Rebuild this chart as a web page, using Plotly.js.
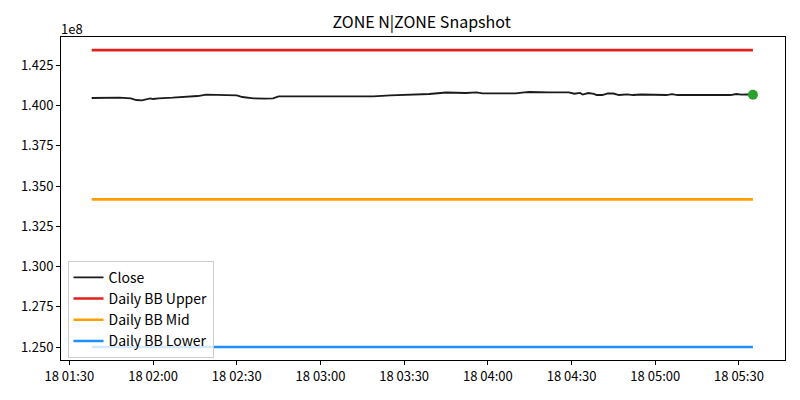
<!DOCTYPE html>
<html>
<head>
<meta charset="utf-8">
<script src="https://cdn.plot.ly/plotly-3.0.1.min.js"></script>
<style>html,body{margin:0;padding:0;background:#fff;}#chart{width:800px;height:400px;}</style>
</head>
<body>
<div id="chart"></div>
<script>
// Close prices (units of 1e8)
const closeTimes = [
  "2024-01-18 01:38","2024-01-18 01:43","2024-01-18 01:48","2024-01-18 01:52","2024-01-18 01:54",
  "2024-01-18 01:56","2024-01-18 01:58","2024-01-18 01:59","2024-01-18 02:00","2024-01-18 02:02",
  "2024-01-18 02:07","2024-01-18 02:12","2024-01-18 02:16","2024-01-18 02:19","2024-01-18 02:23",
  "2024-01-18 02:27","2024-01-18 02:30","2024-01-18 02:32","2024-01-18 02:36","2024-01-18 02:40",
  "2024-01-18 02:43","2024-01-18 02:45","2024-01-18 02:49","2024-01-18 02:52","2024-01-18 02:55",
  "2024-01-18 03:00","2024-01-18 03:07","2024-01-18 03:13","2024-01-18 03:19","2024-01-18 03:25",
  "2024-01-18 03:31","2024-01-18 03:34","2024-01-18 03:39","2024-01-18 03:45","2024-01-18 03:50",
  "2024-01-18 03:52","2024-01-18 03:56","2024-01-18 03:58","2024-01-18 04:04","2024-01-18 04:10",
  "2024-01-18 04:13","2024-01-18 04:15","2024-01-18 04:22","2024-01-18 04:29","2024-01-18 04:31",
  "2024-01-18 04:33","2024-01-18 04:34","2024-01-18 04:36","2024-01-18 04:38","2024-01-18 04:39",
  "2024-01-18 04:41","2024-01-18 04:43","2024-01-18 04:45","2024-01-18 04:47","2024-01-18 04:50",
  "2024-01-18 04:52","2024-01-18 04:55","2024-01-18 04:58","2024-01-18 05:02","2024-01-18 05:04",
  "2024-01-18 05:06","2024-01-18 05:08","2024-01-18 05:16","2024-01-18 05:27","2024-01-18 05:29",
  "2024-01-18 05:31","2024-01-18 05:33","2024-01-18 05:35"
];
const closeValues = [
  1.40465,1.40484,1.40484,1.40446,1.40341,
  1.40322,1.40384,1.40446,1.40403,1.40446,
  1.40484,1.40527,1.40589,1.40670,1.40651,
  1.40651,1.40632,1.40527,1.40446,1.40422,
  1.40446,1.40570,1.40570,1.40546,1.40527,
  1.40539,1.40546,1.40539,1.40570,1.40632,
  1.40663,1.40682,1.40713,1.40806,1.40794,
  1.40775,1.40812,1.40756,1.40756,1.40756,
  1.40818,1.40837,1.40818,1.40818,1.40732,
  1.40781,1.40682,1.40775,1.40725,1.40651,
  1.40651,1.40756,1.40744,1.40651,1.40694,
  1.40651,1.40682,1.40670,1.40682,1.40651,
  1.40701,1.40651,1.40651,1.40651,1.40713,
  1.40670,1.40694,1.40663
];
// Daily Bollinger bands (units of 1e8)
const bandTimes = ["2024-01-18 01:38", "2024-01-18 05:35"];
const bbUpper = 1.4344;
const bbMid = 1.3417;
const bbLower = 1.2500;
const seriesNames = ["Close", "Daily BB Upper", "Daily BB Mid", "Daily BB Lower"];
const titleText = "ZONE N|ZONE Snapshot";
const yOffsetLabel = "1e8";

const font = "Noto Sans CJK JP, Noto Sans, sans-serif";
const lastIdx = closeValues.length - 1;

const traces = [
  {x: closeTimes, y: closeValues, type: "scatter", mode: "lines", name: seriesNames[0],
   line: {color: "#1a1a1a", width: 1.8}},
  {x: bandTimes, y: bandTimes.map(() => bbUpper), type: "scatter", mode: "lines", name: seriesNames[1],
   line: {color: "#e4201d", width: 2.6}},
  {x: bandTimes, y: bandTimes.map(() => bbMid), type: "scatter", mode: "lines", name: seriesNames[2],
   line: {color: "#ffa000", width: 2.6}},
  {x: bandTimes, y: bandTimes.map(() => bbLower), type: "scatter", mode: "lines", name: seriesNames[3],
   line: {color: "#1e8fff", width: 2.6}},
  {x: [closeTimes[lastIdx]], y: [closeValues[lastIdx]], type: "scatter", mode: "markers",
   showlegend: false, marker: {color: "#2ca02c", size: 10}}
];

const layout = {
  width: 800, height: 400,
  margin: {l: 60.5, r: 15, t: 37, b: 40},
  paper_bgcolor: "#fff", plot_bgcolor: "#fff",
  font: {family: font, size: 13, color: "#000"},
  title: {text: titleText, x: 0.527, xanchor: "center", y: 0.945, yanchor: "middle",
         font: {family: font, size: 16, color: "#000"}},
  showlegend: true,
  legend: {x: 0.009, y: 0.007, xanchor: "left", yanchor: "bottom",
           bgcolor: "rgba(255,255,255,0.8)", bordercolor: "#cccccc", borderwidth: 1,
           font: {family: font, size: 14, color: "#000"}, tracegroupgap: 0, itemwidth: 30},
  xaxis: {
    type: "date", range: ["2024-01-18 01:27:00", "2024-01-18 05:46:30"],
    tick0: "2024-01-18 01:30", dtick: 1800000, tickformat: "%d %H:%M",
    showgrid: false, zeroline: false, showline: true, linecolor: "#000", linewidth: 1, mirror: true,
    ticks: "outside", ticklen: 4, tickcolor: "#000", tickfont: {family: font, size: 13, color: "#000"}
  },
  yaxis: {
    range: [1.24195, 1.44254], tick0: 1.25, dtick: 0.025, tickformat: ".3f",
    showgrid: false, zeroline: false, showline: true, linecolor: "#000", linewidth: 1, mirror: true,
    ticks: "outside", ticklen: 4, tickcolor: "#000", tickfont: {family: font, size: 13, color: "#000"}
  },
  annotations: [
    {text: yOffsetLabel, xref: "paper", yref: "paper", x: 0, y: 1, xanchor: "left", yanchor: "bottom",
     yshift: -3, xshift: -2, showarrow: false, font: {family: font, size: 13, color: "#000"}}
  ]
};

Plotly.newPlot("chart", traces, layout, {displayModeBar: false, staticPlot: true});
</script>
</body>
</html>
